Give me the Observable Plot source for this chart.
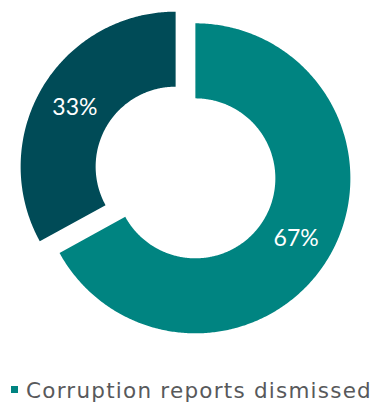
<!DOCTYPE html>
<html><head><meta charset="utf-8">
<script src="https://cdn.jsdelivr.net/npm/d3@7"></script>
<script src="https://cdn.jsdelivr.net/npm/@observablehq/plot@0.6"></script>
<style>
html,body{margin:0;padding:0;background:#fff;}
#wrap{position:relative;width:374px;height:402px;overflow:hidden;font-family:Lato,"Open Sans",sans-serif;}
#chart{position:absolute;left:0;top:0;}
#legend-swatch{position:absolute;left:11px;top:386px;width:7px;height:7px;}
#legend-text{position:absolute;left:26px;top:380px;font-family:"DejaVu Sans",sans-serif;font-size:21.5px;line-height:21px;color:#58595b;white-space:nowrap;}
</style></head><body>
<div id="wrap"><div id="chart"></div><div id="legend-swatch"></div><div id="legend-text"></div></div>
<script>
const categories = ["Corruption reports dismissed", "Not dismissed"];
const values = [67, 33];
const valueLabels = ["67%", "33%"];
const colors = ["#008481", "#004b57"];
const legendCategories = ["Corruption reports dismissed"];

const innerRatio = 0.516;
const explode = 0.074;
const labelRadius = 0.755;

const arcs = d3.pie().sort(null).value(d => d)(values);
const pts = [];
const labelData = [];
arcs.forEach((a, i) => {
  const mid = (a.startAngle + a.endAngle) / 2;
  const ox = explode * Math.sin(mid), oy = explode * Math.cos(mid);
  const n = Math.max(2, Math.ceil((a.endAngle - a.startAngle) / 0.01));
  for (let k = 0; k <= n; k++) {
    const t = a.startAngle + (a.endAngle - a.startAngle) * k / n;
    pts.push({cat: categories[i], x: ox + Math.sin(t), y: oy + Math.cos(t)});
  }
  for (let k = n; k >= 0; k--) {
    const t = a.startAngle + (a.endAngle - a.startAngle) * k / n;
    pts.push({cat: categories[i], x: ox + innerRatio * Math.sin(t), y: oy + innerRatio * Math.cos(t)});
  }
  labelData.push({cat: categories[i], label: valueLabels[i],
    x: ox + labelRadius * Math.sin(mid), y: oy + labelRadius * Math.cos(mid)});
});

const W = 374, H = 345, unit = 155, cx = 185, cy = 172;
const chart = Plot.plot({
  width: W, height: H,
  margin: 0,
  x: {domain: [-cx / unit, (W - cx) / unit], axis: null},
  y: {domain: [-(H - cy) / unit, cy / unit], axis: null},
  color: {domain: categories, range: colors},
  marks: [
    Plot.line(pts, {x: "x", y: "y", z: "cat", fill: "cat", stroke: "none", curve: "linear-closed"}),
    Plot.text(labelData, {x: "x", y: "y", text: "label", fill: "white", fontSize: 23, fontWeight: 400, fontFamily: "Lato, 'Open Sans', sans-serif", dy: 1})
  ],
  style: {background: "transparent"}
});
document.getElementById("chart").appendChild(chart);
document.getElementById("legend-swatch").style.background = colors[categories.indexOf(legendCategories[0])];
const lt = document.getElementById("legend-text");
lt.textContent = legendCategories[0];
const natural = lt.getBoundingClientRect().width;
const target = 346;
lt.style.letterSpacing = ((target - natural) / legendCategories[0].length) + "px";
</script>
</body></html>
